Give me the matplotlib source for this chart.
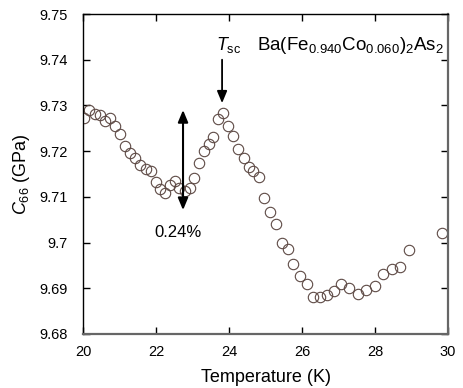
import matplotlib
matplotlib.use("Agg")
import matplotlib.pyplot as plt
from matplotlib.ticker import FuncFormatter

plt.rcParams['font.family'] = ['Liberation Sans', 'DejaVu Sans']
plt.rcParams['mathtext.fontset'] = 'custom'
plt.rcParams['mathtext.rm'] = 'Liberation Sans'
plt.rcParams['mathtext.it'] = 'Liberation Sans:italic'
plt.rcParams['mathtext.bf'] = 'Liberation Sans:bold'

temperature = [20.03, 20.17, 20.32, 20.47, 20.59, 20.74, 20.87, 21.01, 21.15, 21.29,
               21.42, 21.56, 21.72, 21.85, 21.99, 22.12, 22.25, 22.37, 22.52, 22.64,
               22.79, 22.93, 23.05, 23.18, 23.31, 23.45, 23.56, 23.70, 23.84, 23.97,
               24.11, 24.26, 24.40, 24.55, 24.67, 24.81, 24.95, 25.12, 25.28, 25.44,
               25.61, 25.76, 25.95, 26.13, 26.30, 26.49, 26.68, 26.87, 27.07, 27.30,
               27.53, 27.75, 27.99, 28.22, 28.46, 28.68, 28.93, 29.84]
c66 = [9.7272, 9.7290, 9.7281, 9.7279, 9.7267, 9.7273, 9.7254, 9.7237, 9.7211, 9.7195,
       9.7186, 9.7170, 9.7162, 9.7157, 9.7132, 9.7117, 9.7108, 9.7125, 9.7135, 9.7119,
       9.7113, 9.7120, 9.7142, 9.7174, 9.7200, 9.7216, 9.7232, 9.7270, 9.7283, 9.7255,
       9.7233, 9.7205, 9.7186, 9.7165, 9.7157, 9.7143, 9.7097, 9.7066, 9.7040, 9.6998,
       9.6985, 9.6954, 9.6927, 9.6909, 9.6882, 9.6882, 9.6886, 9.6893, 9.6909, 9.6901,
       9.6887, 9.6896, 9.6906, 9.6931, 9.6942, 9.6947, 9.6984, 9.7022]

x_ticks = [20, 22, 24, 26, 28, 30]
y_ticks = [9.68, 9.69, 9.70, 9.71, 9.72, 9.73, 9.74, 9.75]

fig = plt.figure(figsize=(4.63, 3.88), dpi=100)
ax = fig.add_axes([0.1793, 0.1392, 0.7883, 0.8247])

ax.plot(temperature, c66, linestyle='none', marker='o', markersize=7.5,
        markerfacecolor='none', markeredgecolor='#5e4a45', markeredgewidth=0.8)

ax.set_xlim(20, 30)
ax.set_ylim(9.68, 9.75)
ax.set_xticks(x_ticks)
ax.set_yticks(y_ticks)
ax.yaxis.set_major_formatter(FuncFormatter(lambda v, p: f"{v:g}"))
ax.tick_params(direction='in', length=5, width=1, top=True, right=True,
               labelsize=10.5, colors='black')
ax.tick_params(axis='y', pad=11)
ax.tick_params(axis='x', pad=8)

for side in ['left', 'top']:
    ax.spines[side].set_color('black')
    ax.spines[side].set_linewidth(1.0)
for side in ['right', 'bottom']:
    ax.spines[side].set_color('#666666')
    ax.spines[side].set_linewidth(1.6)

ax.set_xlabel('Temperature (K)', fontsize=13, labelpad=7)
ax.set_ylabel('$C_{66}$ (GPa)', fontsize=13, labelpad=5)

# double arrow
ax.annotate('', xy=(22.74, 9.7071), xytext=(22.74, 9.7290),
            arrowprops=dict(arrowstyle='<|-|>,head_length=0.6,head_width=0.25',
                            color='black', lw=1.5,
                            mutation_scale=12, shrinkA=0, shrinkB=0))
ax.text(22.6, 9.7023, '0.24%', fontsize=12, ha='center', va='center')

# Tsc arrow
ax.annotate('', xy=(23.81, 9.7305), xytext=(23.81, 9.7400),
            arrowprops=dict(arrowstyle='-|>,head_length=0.6,head_width=0.25',
                            color='black', lw=1.3,
                            mutation_scale=12, shrinkA=0, shrinkB=0))
ax.text(24.0, 9.7432, r'$T_{\mathrm{sc}}$', fontsize=13, ha='center', va='center')
ax.text(29.9, 9.7432, r'$\mathrm{Ba(Fe_{0.940}Co_{0.060})_2As_2}$', fontsize=13.5,
        ha='right', va='center')

fig.savefig('out.png', dpi=100)
